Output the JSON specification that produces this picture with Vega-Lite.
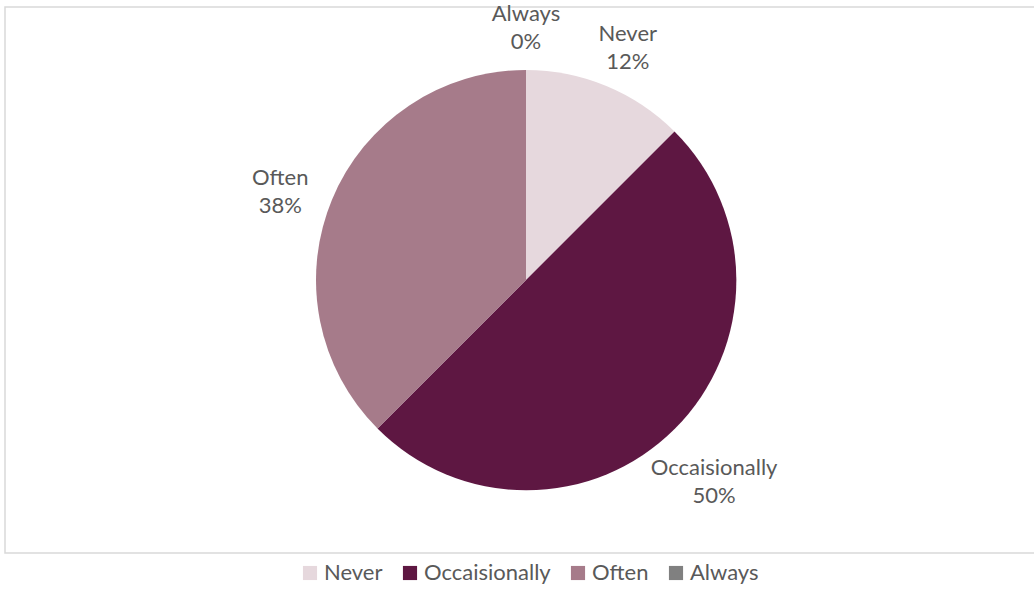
{
  "$schema": "https://vega.github.io/schema/vega-lite/v6.json",
  "width": 1042,
  "height": 546,
  "autosize": {"type": "none"},
  "padding": {"left": 5, "top": 7, "right": 0, "bottom": 52},
  "background": "white",
  "view": {"stroke": "#d9d9d9", "strokeWidth": 1.5},
  "config": {
    "view": {"stroke": "#d9d9d9", "strokeWidth": 1.5},
    "font": "Lato"
  },
  "data": {
    "values": [
      {"answer": "Never", "count": 1, "label": "Never\n12%"},
      {"answer": "Occaisionally", "count": 4, "label": "Occaisionally\n50%"},
      {"answer": "Often", "count": 3, "label": "Often\n38%"},
      {"answer": "Always", "count": 0, "label": "Always\n0%"}
    ]
  },
  "encoding": {
    "theta": {"field": "count", "type": "quantitative", "stack": true},
    "color": {
      "field": "answer",
      "type": "nominal",
      "sort": ["Never", "Occaisionally", "Often", "Always"],
      "scale": {
        "domain": ["Never", "Occaisionally", "Often", "Always"],
        "range": ["#e6d8dd", "#5e1742", "#a67b8a", "#808080"]
      },
      "legend": {
        "title": null,
        "orient": "none",
        "legendX": 294,
        "legendY": 555,
        "direction": "horizontal",
        "symbolType": "square",
        "symbolSize": 200,
        "symbolStrokeWidth": 0,
        "labelFontSize": 22,
        "labelColor": "#595959",
        "labelFont": "Lato",
        "labelOffset": 3,
        "columnPadding": 16
      }
    }
  },
  "layer": [
    {
      "mark": {"type": "arc", "outerRadius": 210}
    },
    {
      "mark": {
        "type": "text",
        "radius": 266,
        "lineBreak": "\n",
        "fontSize": 22,
        "color": "#595959",
        "lineHeight": 28,
        "baseline": "middle"
      },
      "encoding": {
        "text": {"field": "label"},
        "color": {"value": "#595959"}
      }
    }
  ]
}
